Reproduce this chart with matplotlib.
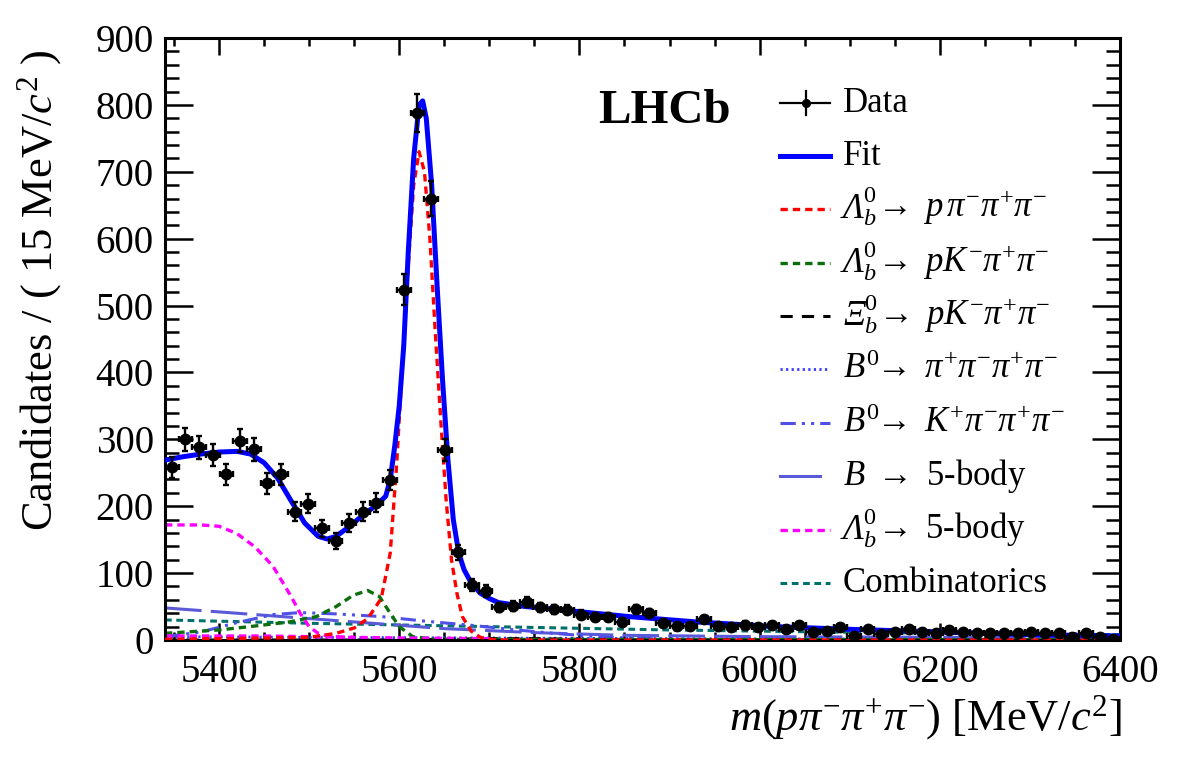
import numpy as np
import matplotlib
matplotlib.use("Agg")
import matplotlib.pyplot as plt

plt.rcParams['font.family'] = ['Liberation Serif', 'DejaVu Serif']
plt.rcParams['mathtext.fontset'] = 'custom'
plt.rcParams['mathtext.rm'] = 'Liberation Serif'
plt.rcParams['mathtext.it'] = 'Liberation Serif:italic'
plt.rcParams['mathtext.bf'] = 'Liberation Serif:bold'
plt.rcParams['mathtext.fallback'] = 'stix'

# ---------------- data ----------------
x_min, x_max = 5340.0, 6400.0
n_bins = 70
counts = [258, 300, 288, 277, 248, 298, 285, 234, 248, 192,
          204, 167, 148, 175, 192, 205, 239, 524, 788, 660,
          284, 131, 82, 73, 49, 51, 57, 49, 46, 45,
          38, 35, 34, 27, 46, 40, 25, 21, 21, 31,
          21, 19, 23, 20, 22, 17, 22, 12, 14, 20,
          6, 16, 9, 12, 16, 12, 10, 15, 12, 10,
          10, 10, 10, 12, 10, 10, 5, 11, 4, 1]

fit_m = [5340, 5360, 5380, 5400, 5420, 5435, 5450, 5465, 5480, 5495, 5510, 5520, 5530,
         5545, 5560, 5575, 5585, 5590, 5595, 5600, 5605, 5610, 5616, 5622, 5626, 5630,
         5636, 5642, 5648, 5654, 5660, 5666, 5672, 5680, 5690, 5700, 5710, 5740, 5780,
         5855, 5930, 6017, 6100, 6200, 6300, 6400]
fit_v = [269, 274, 278, 281, 282, 278, 265, 242, 208, 175, 155, 151, 155,
         170, 187, 202, 215, 240, 290, 350, 440, 580, 720, 800, 806, 780,
         680, 530, 390, 270, 180, 130, 105, 85, 70, 62, 56, 50, 45,
         35, 27, 20, 16, 12, 8, 6]

sig_m = [5340, 5400, 5450, 5500, 5530, 5550, 5565, 5580, 5590, 5597, 5603, 5610, 5616,
         5622, 5628, 5634, 5640, 5646, 5652, 5658, 5664, 5670, 5680, 5690, 5700, 5720, 6400]
sig_v = [1, 2, 3, 4, 10, 18, 32, 62, 130, 260, 400, 560, 680,
         730, 700, 600, 460, 330, 210, 120, 70, 35, 13, 4, 1, 0, 0]

pk_m = [5340, 5400, 5434, 5478, 5508, 5530, 5549, 5565, 5578, 5589, 5600, 5615, 5640, 6400]
pk_v = [10, 15, 20, 27, 35, 50, 67, 74, 65, 42, 20, 5, 1, 0]

xib_m = [5340, 5600, 5650, 5700, 5750, 5800, 5850, 6400]
xib_v = [0, 0, 1, 2, 2, 1, 0, 0]

b4pi_m = [5340, 5500, 5700, 5900, 6100, 6400]
b4pi_v = [5, 4, 3, 2, 1.5, 1]

bk3pi_m = [5340, 5380, 5420, 5460, 5490, 5530, 5580, 5630, 5680, 5730, 5780, 5830, 5900, 6000, 6400]
bk3pi_v = [5, 12, 26, 38, 41, 39, 35, 28, 22, 15, 9, 4, 1, 0, 0]

b5_m = [5340, 5470, 5650, 5750, 5850, 6000, 6200, 6400]
b5_v = [48, 35, 17, 11, 7, 5, 4, 3]

lb5_m = [5340, 5380, 5400, 5420, 5440, 5460, 5480, 5490, 5500, 5510, 5520, 5540, 5600, 5700]
lb5_v = [172, 172, 170, 159, 139, 110, 65, 40, 20, 10, 6, 4, 3, 2]

lb5low_m = [5340, 5400, 5450, 5500, 5550]
lb5low_v = [6, 6, 6, 5, 4]

comb_m = [5340, 5500, 5700, 5900, 6100, 6300, 6400]
comb_v = [30, 25, 20, 15, 11.5, 9, 8]

x_ticks = [5400, 5600, 5800, 6000, 6200, 6400]
y_ticks = [0, 100, 200, 300, 400, 500, 600, 700, 800, 900]

# ---------------- figure ----------------
W, H = 1182, 763
fig = plt.figure(figsize=(W / 100, H / 100), dpi=100)
L, R, B, T = 165, 1120, 640, 38
ax = fig.add_axes([L / W, (H - B) / H, (R - L) / W, (B - T) / H])

edges = np.linspace(x_min, x_max, n_bins + 1)
centers = 0.5 * (edges[1:] + edges[:-1])
half = 0.5 * (edges[1] - edges[0])
cnt = np.array(counts, dtype=float)

col_fit = '#0000ff'
col_sig = '#ff0000'
col_pk = '#0b6e0b'
col_xib = '#000000'
col_b4pi = '#3a3aff'
col_bk = '#5050e6'
col_b5 = '#5a5ad8'
col_lb5 = '#ff00ff'
col_comb = '#00706a'

ls_short = (0, (2.2, 1.5))
styles = {
    'comb': dict(color=col_comb, lw=2.2, ls=ls_short),
    'b5': dict(color=col_b5, lw=2.2, ls=(0, (12, 3))),
    'bk': dict(color=col_bk, lw=2.2, ls=(0, (5, 2, 1, 2, 1, 2))),
    'b4pi': dict(color=col_b4pi, lw=2.0, ls=(0, (0.8, 1.2))),
    'xib': dict(color=col_xib, lw=2.2, ls=(0, (4, 3))),
    'pk': dict(color=col_pk, lw=2.4, ls=ls_short),
    'lb5': dict(color=col_lb5, lw=2.4, ls=ls_short),
    'sig': dict(color=col_sig, lw=2.4, ls=ls_short),
}

ax.plot(comb_m, comb_v, **styles['comb'], zorder=2)
ax.plot(b5_m, b5_v, **styles['b5'], zorder=2)
ax.plot(bk3pi_m, bk3pi_v, **styles['bk'], zorder=2)
ax.plot(b4pi_m, b4pi_v, **styles['b4pi'], zorder=2)
ax.plot(xib_m, xib_v, **styles['xib'], zorder=2)
ax.plot(pk_m, pk_v, **styles['pk'], zorder=2)
ax.plot(lb5_m, lb5_v, **styles['lb5'], zorder=2)
ax.plot(lb5low_m, lb5low_v, **styles['lb5'], zorder=2)
ax.plot(sig_m, sig_v, **styles['sig'], zorder=3)
ax.plot(fit_m, fit_v, color=col_fit, lw=3.6, zorder=4, solid_joinstyle='round')

ax.errorbar(centers, cnt, xerr=half, yerr=np.sqrt(cnt), fmt='o', color='k',
            ms=7.5, elinewidth=1.7, capsize=2.5, capthick=1.7, zorder=5)

ax.set_xlim(x_min, x_max)
ax.set_ylim(0, 900)
ax.set_xticks(x_ticks)
ax.set_yticks(y_ticks)
ax.set_xticks(np.arange(5350, 6401, 50), minor=True)
ax.set_yticks(np.arange(0, 901, 20), minor=True)
ax.tick_params(axis='both', which='both', direction='in', top=True, right=True,
               width=1.8, labelsize=28)
ax.tick_params(axis='x', which='major', length=12, pad=10)
ax.tick_params(axis='x', which='minor', length=6)
ax.tick_params(axis='y', which='major', length=20, pad=8)
ax.tick_params(axis='y', which='minor', length=10)
for s in ax.spines.values():
    s.set_linewidth(2.2)

fig.text(1122 / W, 1 - 718 / H, r'$m(p\pi^{-}\pi^{+}\pi^{-})$ [MeV/$c^{2}$]',
         ha='right', va='center', fontsize=32)
fig.text(40 / W, 1 - 290 / H, r'Candidates / ( 15 MeV/$c^{2}$ )',
         ha='center', va='center', rotation=90, fontsize=32)

fig.text(664 / W, 1 - 111 / H, 'LHCb', ha='center', va='center',
         fontsize=35, fontweight='bold')

# ---------------- legend (manual) ----------------
def fx(px):
    return px / W


def fy(py):
    return 1 - py / H


rows = [103, 156, 209, 263, 316, 369, 423, 476, 530, 583]
x0, x1, xt = 780, 830, 843
labels = [(None, 'Data'), (None, 'Fit'),
          ('Λ', r'$_b^0\!\rightarrow\ p\,\pi^{-}\pi^{+}\pi^{-}$'),
          ('Λ', r'$_b^0\!\rightarrow\ pK^{-}\pi^{+}\pi^{-}$'),
          ('Ξ', r'$_b^0\!\rightarrow\ pK^{-}\pi^{+}\pi^{-}$'),
          (None, r'$B^0\!\!\rightarrow\ \pi^{+}\pi^{-}\pi^{+}\pi^{-}$'),
          (None, r'$B^0\!\!\rightarrow\ K^{+}\pi^{-}\pi^{+}\pi^{-}$'),
          (None, r'$B\ \rightarrow$ 5-body'),
          ('Λ', r'$_b^0\!\rightarrow$ 5-body'),
          (None, 'Combinatorics')]
keys = [None, 'fit', 'sig', 'pk', 'xib', 'b4pi', 'bk', 'b5', 'lb5', 'comb']
renderer = fig.canvas.get_renderer()
for r, (greek, lab), k in zip(rows, labels, keys):
    if k is None:
        fig.add_artist(plt.Line2D([fx(x0), fx(x1)], [fy(r), fy(r)], color='k', lw=1.6))
        fig.add_artist(plt.Line2D([fx(806), fx(806)], [fy(r - 12), fy(r + 12)], color='k', lw=1.6))
        fig.add_artist(plt.Line2D([fx(806)], [fy(r)], color='k', marker='o', ms=5.5))
    elif k == 'fit':
        fig.add_artist(plt.Line2D([fx(x0), fx(x1)], [fy(r), fy(r)], color=col_fit, lw=3.6))
    elif k == 'b5':
        fig.add_artist(plt.Line2D([fx(x0), fx(820)], [fy(r), fy(r)], color=col_b5, lw=2.2))
    else:
        fig.add_artist(plt.Line2D([fx(x0), fx(x1)], [fy(r), fy(r)], **styles[k]))
    xs = xt
    base = fy(r + 9)
    if greek is not None:
        tg = fig.text(fx(xt), base, greek, ha='left', va='baseline', fontsize=25,
                      style='italic')
        bb = tg.get_window_extent(renderer)
        xs = bb.x1 - 1
    fig.text(fx(xs), base, lab, ha='left', va='baseline', fontsize=25)

fig.savefig('out.png', dpi=100)
